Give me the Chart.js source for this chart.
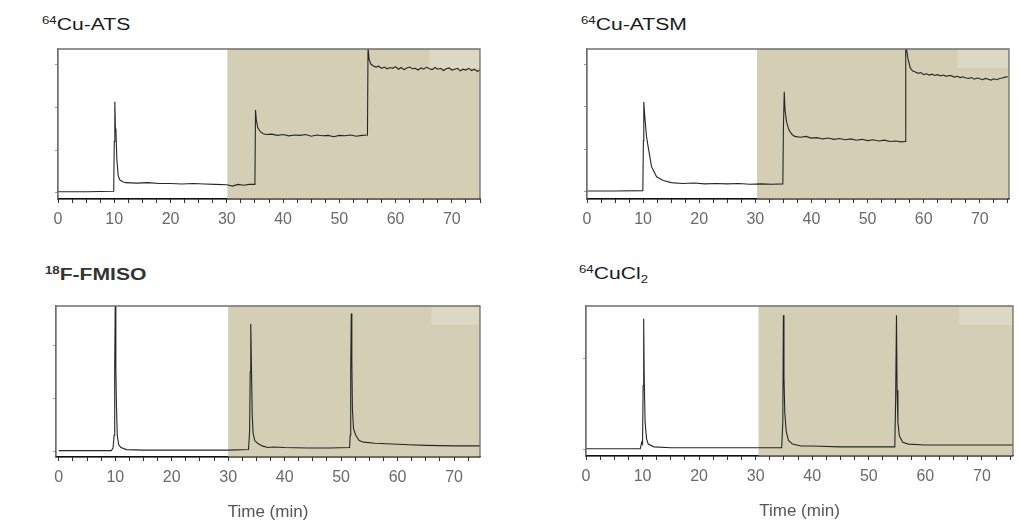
<!DOCTYPE html>
<html>
<head>
<meta charset="utf-8">
<script src="https://cdn.jsdelivr.net/npm/chart.js@4/dist/chart.umd.min.js"></script>
<style>
  body { margin: 0; background: #fff; }
  #page { position: relative; width: 1018px; height: 525px; overflow: hidden; }
  canvas { position: absolute; }
  .title {
    position: absolute;
    font-family: 'Liberation Sans', Arial, sans-serif;
    font-size: 16px;
    line-height: 16px;
    color: #1a1a1a;
    white-space: nowrap;
    transform: scaleX(1.32);
    transform-origin: left top;
  }
  .title sup { font-size: 10px; vertical-align: 6px; line-height: 0; }
  .title sub { font-size: 10px; vertical-align: -4px; line-height: 0; }
</style>
</head>
<body>
<div id="page">
  <div class="title" style="left:42px; top:17px;"><sup>64</sup>Cu-ATS</div>
  <div class="title" style="left:581px; top:17px;"><sup>64</sup>Cu-ATSM</div>
  <div class="title" style="left:45px; top:267px; font-weight:bold; color:#333;"><sup>18</sup>F-FMISO</div>
  <div class="title" style="left:579px; top:266px;"><sup>64</sup>CuCl<sub>2</sub></div>

  <canvas id="ats" width="509" height="240" style="left:0; top:0;"></canvas>
  <canvas id="atsm" width="509" height="240" style="left:509px; top:0;"></canvas>
  <canvas id="fmiso" width="509" height="275" style="left:0; top:250px;"></canvas>
  <canvas id="cucl" width="509" height="275" style="left:509px; top:250px;"></canvas>
</div>
<script>
const shadeColor = '#d3ceb4';
const boxColor = '#dcd8c4';
const lineColor = '#262626';
const tickColor = '#6a6a6a';
const fontFamily = "'Liberation Sans', Arial, sans-serif";

const xTickStep = 2.5;
const axisTitle = 'Time (min)';

// [time (min), signal]
const atsTrace = [[0,0.03],[5,0.03],[9.9,0.04],[10.0,1.2],[10.1,2.12],[10.2,1.5],[10.3,1.45],[10.45,0.8],[10.7,0.4],[11,0.3],[11.5,0.26],[12,0.24],[14,0.23],[16,0.24],[18,0.22],[20,0.22],[22,0.21],[24,0.22],[26,0.21],[28,0.2],[30,0.19],[31,0.16],[32,0.2],[33,0.18],[34,0.2],[35.0,0.2],[35.1,1.93],[35.25,1.7],[35.5,1.52],[36,1.42],[36.5,1.38],[37,1.36],[38,1.37],[39,1.34],[40,1.36],[41,1.33],[42,1.35],[43,1.34],[44,1.36],[45,1.32],[46,1.35],[47,1.33],[48,1.34],[49,1.31],[50,1.34],[51,1.33],[52,1.35],[53,1.32],[54,1.34],[55.0,1.35],[55.1,3.4],[55.3,3.1],[55.6,3.0],[56,2.96],[56.5,2.93],[57,2.95],[57.5,2.9],[58,2.93],[58.5,2.89],[59,2.92],[59.5,2.9],[60,2.94],[60.5,2.88],[61,2.92],[61.5,2.87],[62,2.91],[62.5,2.93],[63,2.89],[63.5,2.9],[64,2.86],[64.5,2.91],[65,2.88],[65.5,2.93],[66,2.89],[66.5,2.87],[67,2.92],[67.5,2.88],[68,2.9],[68.5,2.85],[69,2.89],[69.5,2.91],[70,2.86],[70.5,2.88],[71,2.9],[71.5,2.84],[72,2.88],[72.5,2.86],[73,2.9],[73.5,2.85],[74,2.88],[74.5,2.83],[75,2.86]];

const atsmTrace = [[0,0.0],[5,0.0],[9.95,0.01],[10.05,1.2],[10.12,2.12],[10.3,1.77],[10.6,1.3],[10.9,1.05],[11.5,0.58],[12.4,0.34],[13.6,0.25],[15,0.2],[17,0.18],[19,0.19],[21,0.17],[23,0.18],[25,0.17],[27,0.18],[29,0.16],[31,0.17],[33,0.16],[34.9,0.17],[35.0,1.5],[35.15,2.36],[35.3,1.9],[35.6,1.62],[36,1.45],[36.5,1.35],[37,1.3],[38,1.28],[39,1.3],[40,1.26],[41,1.27],[42,1.24],[43,1.26],[44,1.23],[45,1.25],[46,1.22],[47,1.24],[48,1.21],[49,1.23],[50,1.2],[51,1.22],[52,1.19],[53,1.21],[54,1.18],[55,1.19],[56,1.17],[56.7,1.18],[56.8,3.5],[57.2,3.15],[57.6,2.93],[58,2.86],[58.5,2.83],[59,2.8],[59.5,2.82],[60,2.77],[60.5,2.79],[61,2.76],[61.5,2.78],[62,2.75],[62.5,2.77],[63,2.74],[63.5,2.76],[64,2.73],[64.5,2.75],[65,2.74],[65.5,2.71],[66,2.73],[66.5,2.7],[67,2.72],[67.5,2.69],[68,2.68],[68.5,2.7],[69,2.66],[69.5,2.69],[70,2.67],[70.5,2.65],[71,2.68],[71.5,2.66],[72,2.64],[72.5,2.67],[73,2.65],[73.5,2.68],[74,2.69],[74.5,2.71],[75,2.72]];

const fmisoTrace = [[0,0.01],[9.3,0.01],[9.6,0.06],[9.8,0.3],[9.9,1.6],[10.0,2.9],[10.1,1.6],[10.2,0.9],[10.35,0.3],[10.6,0.12],[11,0.07],[12,0.03],[15,0.02],[20,0.02],[25,0.02],[30,0.02],[33.6,0.03],[33.8,0.4],[33.9,1.5],[34.0,2.4],[34.1,1.7],[34.25,0.7],[34.4,0.35],[34.7,0.2],[35.2,0.15],[36,0.1],[37,0.07],[38,0.08],[40,0.07],[44,0.06],[48,0.06],[51.5,0.07],[51.6,0.3],[51.7,1.5],[51.8,2.6],[51.9,1.7],[52.0,0.8],[52.2,0.42],[52.6,0.3],[53.2,0.2],[54,0.17],[56,0.15],[58,0.14],[60,0.13],[62,0.12],[65,0.11],[70,0.1],[74.6,0.1]];

const cuclTrace = [[0,0.01],[9.6,0.01],[9.85,0.08],[10.0,0.06],[10.1,0.7],[10.2,1.43],[10.3,0.75],[10.45,0.3],[10.7,0.12],[11,0.06],[12,0.03],[15,0.02],[20,0.02],[25,0.02],[30,0.02],[34.6,0.02],[34.8,0.3],[34.9,1.47],[35.0,0.8],[35.15,0.4],[35.4,0.2],[35.8,0.1],[36.5,0.06],[38,0.04],[40,0.04],[45,0.03],[50,0.03],[54.6,0.03],[54.75,0.55],[54.9,1.47],[55.0,0.65],[55.15,0.3],[55.4,0.15],[56,0.08],[57,0.06],[60,0.05],[65,0.05],[70,0.05],[75.5,0.05]];

// shaded background band + faint legend box + frame
const panelDecor = {
  id: 'panelDecor',
  beforeDatasetsDraw(chart, args, opts) {
    const { ctx, chartArea: a, scales: { x } } = chart;
    const sx = x.getPixelForValue(opts.shadeFrom);
    ctx.save();
    ctx.fillStyle = shadeColor;
    ctx.fillRect(sx, a.top, a.right - sx, a.bottom - a.top);
    const bx = x.getPixelForValue(opts.boxFrom);
    ctx.fillStyle = boxColor;
    ctx.fillRect(bx, a.top + 1, a.right - bx - 1, 18);
    ctx.restore();
  },
  afterDatasetsDraw(chart) {
    const { ctx, chartArea: a } = chart;
    ctx.save();
    ctx.strokeStyle = '#707070';
    ctx.lineWidth = 1.3;
    ctx.beginPath();
    ctx.moveTo(a.left, a.bottom);
    ctx.lineTo(a.left, a.top);
    ctx.lineTo(a.right, a.top);
    ctx.lineTo(a.right, a.bottom);
    ctx.stroke();
    ctx.strokeStyle = '#111';
    ctx.lineWidth = 1.2;
    ctx.beginPath();
    ctx.moveTo(a.left, a.bottom);
    ctx.lineTo(a.right, a.bottom);
    ctx.stroke();
    ctx.restore();
  },
};

function makePanel(id, trace, o) {
  return new Chart(document.getElementById(id), {
    type: 'line',
    data: {
      datasets: [{
        data: trace.map(([t, v]) => ({ x: t, y: v })),
        borderColor: lineColor,
        borderWidth: 1.1,
        pointRadius: 0,
        tension: 0,
        fill: false,
      }],
    },
    plugins: [panelDecor],
    options: {
      responsive: false,
      animation: false,
      events: [],
      layout: { padding: o.padding },
      plugins: {
        legend: { display: false },
        tooltip: { enabled: false },
        panelDecor: { shadeFrom: o.shadeFrom, boxFrom: 66 },
      },
      scales: {
        x: {
          type: 'linear',
          min: o.xMin,
          max: o.xMax,
          afterFit: s => { s.height = o.xHeight; },
          ticks: {
            stepSize: xTickStep,
            autoSkip: false,
            includeBounds: false,
            maxRotation: 0,
            padding: 7,
            color: tickColor,
            font: { family: fontFamily, size: 16 },
            callback: v => (v % 10 === 0 ? String(v) : ''),
          },
          grid: { drawOnChartArea: false, tickLength: 4, color: '#333', lineWidth: 1 },
          border: { color: '#111', width: 1.2 },
          title: {
            display: !!o.showTitle,
            text: axisTitle,
            color: '#555',
            font: { family: fontFamily, size: 17 },
            padding: { top: 0, bottom: 0 },
          },
        },
        y: {
          min: o.yMin,
          max: o.yMax,
          afterFit: s => { s.width = 6; },
          ticks: { display: false, stepSize: 1, includeBounds: false },
          grid: { drawOnChartArea: false, tickLength: 3, color: '#999' },
          border: { color: '#707070', width: 1.2 },
        },
      },
    },
  });
}

makePanel('ats', atsTrace, {
  xMin: 0, xMax: 75, yMin: -0.14, yMax: 3.35, shadeFrom: 30.1, xHeight: 32,
  padding: { left: 52, right: 29, top: 49, bottom: 9 },
});
makePanel('atsm', atsmTrace, {
  xMin: 0, xMax: 75.2, yMin: -0.19, yMax: 3.38, shadeFrom: 30.3, xHeight: 32,
  padding: { left: 72, right: 9, top: 49, bottom: 9 },
});
makePanel('fmiso', fmisoTrace, {
  xMin: -0.5, xMax: 74.6, yMin: -0.11, yMax: 2.74, shadeFrom: 30, xHeight: 66, showTitle: true,
  padding: { left: 50, right: 29, top: 56, bottom: 2 },
});
makePanel('cucl', cuclTrace, {
  xMin: 0, xMax: 75.5, yMin: -0.07, yMax: 1.57, shadeFrom: 30.5, xHeight: 66, showTitle: true,
  padding: { left: 71, right: 5, top: 56, bottom: 3 },
});
</script>
</body>
</html>
